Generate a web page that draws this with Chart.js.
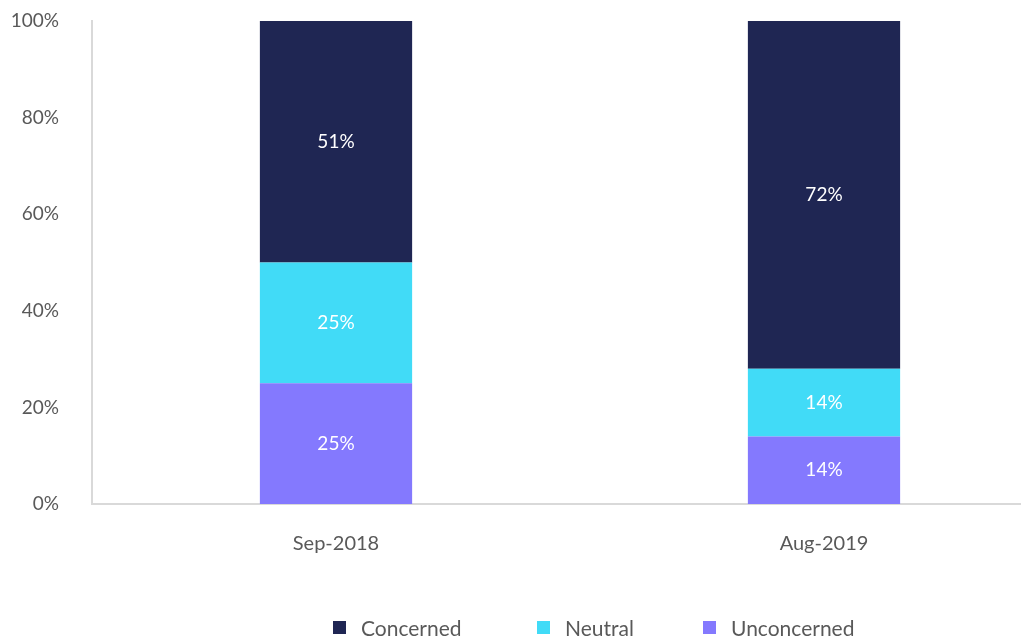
<!DOCTYPE html>
<html>
<head>
<meta charset="utf-8">
<script src="https://cdn.jsdelivr.net/npm/chart.js@4/dist/chart.umd.min.js"></script>
<style>
  body { margin: 0; overflow: hidden; background: #fff; font-family: Lato, sans-serif; }
  #wrap { position: relative; width: 1068px; height: 637px; }
  #legend { position: absolute; left: 0; top: 0; width: 1021px; height: 637px; pointer-events: none; }
  .item { position: absolute; top: 615px; height: 24px; display: flex; align-items: center; font-size: 21px; color: #595959; }
  .swatch { width: 13px; height: 13px; margin-right: 15px; }
</style>
</head>
<body>
<div id="wrap"><canvas id="chart"></canvas></div>
<div id="legend"></div>
<script>
const periods = ['Sep-2018', 'Aug-2019'];
const concerned = [51, 72];
const neutral = [25, 14];
const unconcerned = [25, 14];
const yTicks = [0, 20, 40, 60, 80, 100];

const colors = {
    Concerned: '#1f2653',
    Neutral: '#41dbf7',
    Unconcerned: '#8479fe'
};

const textColor = '#595959';
const axisColor = '#d9d9d9';

// white value labels centred in the visible part of each segment
const barLabels = {
    id: 'barLabels',
    afterDatasetsDraw(chart) {
        const { ctx, chartArea } = chart;
        ctx.save();
        ctx.font = '19px Lato';
        ctx.fillStyle = '#ffffff';
        ctx.textAlign = 'center';
        ctx.textBaseline = 'middle';
        chart.data.datasets.forEach((ds, i) => {
            chart.getDatasetMeta(i).data.forEach((bar, j) => {
                const top = Math.max(bar.y, chartArea.top);
                const bottom = Math.min(bar.base, chartArea.bottom);
                ctx.fillText(ds.data[j] + '%', bar.x, (top + bottom) / 2);
            });
        });
        ctx.restore();
    }
};

const chart = new Chart(document.getElementById('chart'), {
    type: 'bar',
    data: {
        labels: periods,
        datasets: [
            { label: 'Unconcerned', data: unconcerned, backgroundColor: colors.Unconcerned },
            { label: 'Neutral', data: neutral, backgroundColor: colors.Neutral },
            { label: 'Concerned', data: concerned, backgroundColor: colors.Concerned }
        ]
    },
    options: {
        responsive: true,
        maintainAspectRatio: false,
        animation: false,
        layout: { padding: { top: 21, left: 0, right: 0, bottom: 0 } },
        datasets: { bar: { barPercentage: 0.312, categoryPercentage: 1 } },
        plugins: {
            legend: { display: false },
            tooltip: { enabled: false }
        },
        scales: {
            x: {
                stacked: true,
                grid: { display: false, drawTicks: false },
                border: { display: true, color: axisColor, width: 2 },
                ticks: { color: textColor, font: { family: 'Lato', size: 20 }, padding: 28 },
                afterFit(scale) {
                    scale.height = 133;
                    scale.paddingLeft = 0;
                    scale.paddingRight = 0;
                }
            },
            y: {
                stacked: true,
                min: 0,
                max: 100,
                grid: { display: false, drawTicks: false },
                border: { display: true, color: axisColor, width: 2 },
                afterBuildTicks(scale) { scale.ticks = yTicks.map(v => ({ value: v })); },
                ticks: {
                    color: textColor,
                    font: { family: 'Lato', size: 19 },
                    padding: 33,
                    callback: v => v + '%'
                },
                afterFit(scale) {
                    scale.width = 92;
                    scale.paddingTop = 0;
                    scale.paddingBottom = 0;
                }
            }
        }
    },
    plugins: [barLabels]
});

// legend, top to bottom order of the stack
const legendItems = [
    { name: 'Concerned', left: 333 },
    { name: 'Neutral', left: 537 },
    { name: 'Unconcerned', left: 703 }
];
const legend = document.getElementById('legend');
legendItems.forEach(item => {
    const el = document.createElement('div');
    el.className = 'item';
    el.style.left = item.left + 'px';
    el.innerHTML = '<span class="swatch" style="background:' + colors[item.name] + '"></span>' + item.name;
    legend.appendChild(el);
});
</script>
</body>
</html>
